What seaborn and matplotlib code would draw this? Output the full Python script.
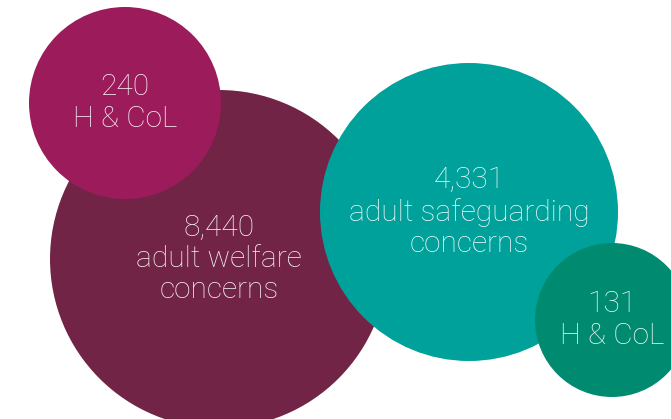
import pandas as pd
import seaborn as sns
from matplotlib import pyplot as plt

# chart values
names = ['welfare', 'welfare_hcol', 'safeguarding', 'safeguarding_hcol']
counts = ['8,440', '240', '4,331', '131']
captions = ['adult welfare\nconcerns', 'H & CoL', 'adult safeguarding\nconcerns', 'H & CoL']

# layout (pixel units)
cx = [219, 125, 469, 612]
cy = [259, 103, 212, 320]
radius = [169, 96, 149, 77]
colors = ['#722446', '#9C1B5B', '#00A19A', '#008B70']

W, H, DPI = 671, 419, 100
pt_per_px = 72 / DPI

df = pd.DataFrame({'name': names, 'x': cx, 'y': cy})

sns.set_style('white')
plt.rcParams['font.family'] = ['Roboto', 'DejaVu Sans']

fig = plt.figure(figsize=(W / DPI, H / DPI), dpi=DPI)
ax = fig.add_axes([0, 0, 1, 1])

sizes = {n: (2 * r * pt_per_px) ** 2 for n, r in zip(names, radius)}
sns.scatterplot(data=df, x='x', y='y', hue='name', size='name',
                palette=dict(zip(names, colors)), sizes=sizes,
                linewidth=0, alpha=1, legend=False, ax=ax)

for x, y, c, cap in zip(cx, cy, counts, captions):
    ax.text(x, y, c + '\n' + cap, ha='center', va='center',
            color='white', alpha=0.92, fontsize=21.5, fontweight='light',
            linespacing=1.15)

ax.set_xlim(0, W)
ax.set_ylim(H, 0)
ax.set_axis_off()
fig.savefig('out.png', dpi=DPI)
